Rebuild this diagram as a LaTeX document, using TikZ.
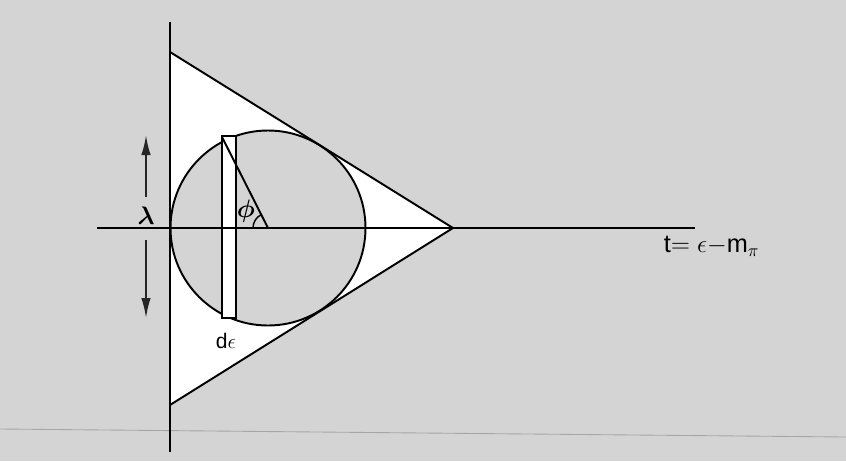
\documentclass[tikz,border=0pt]{standalone}
\usepackage{bm}
\usepackage{fontspec}
\setmainfont{Liberation Sans}
\usetikzlibrary{arrows.meta}

\begin{document}
\begin{tikzpicture}[x=0.02cm,y=-0.02cm,line width=1.1pt,>={Latex[length=4mm,width=1.9mm]}]
\def\cx{268}\def\cy{228}\def\R{97.5}
\useasboundingbox (0,0) rectangle (846,461);
% halftone page and the faint scan line
\fill[black!17] (0,0) rectangle (846,461);
\draw[black!35,line width=0.5pt] (0,429) -- (846,437);
% cone, disc and strip (fills first)
\coordinate (top) at (170,52);
\coordinate (bot) at (170,405);
\coordinate (tip) at (453,\cy);
\coordinate (ctr) at (\cx,\cy);
\fill[white] (top) -- (tip) -- (bot) -- cycle;
\filldraw[fill=black!17] (ctr) circle[radius=\R];
\filldraw[fill=white] (222,136) rectangle (236,318);
% axes
\draw (170,22) -- (170,452);
\draw (97,\cy) -- (695,\cy);
\draw (top) -- (tip) -- (bot);
% radius and angle
\draw (222,137) -- (ctr);
\draw[line width=0.8pt] ([xshift=-15*0.02cm]ctr) arc[start angle=180,end angle=243,radius=15];
% lambda arrows
\draw[->,black!85] (146,197) -- (146,135);
\draw[->,black!85] (146,240) -- (146,318);
\node (lam) at (146,216) {\Large$\bm{\lambda}$};
\node (phi) at (246,211) {\Large$\bm{\phi}$};
\node (de) at (226,341) {\large d$\epsilon$};
\node[anchor=west] (tlab) at (657,246) {\Large t$=\epsilon-$m$_{\pi}$};
\end{tikzpicture}
\end{document}
